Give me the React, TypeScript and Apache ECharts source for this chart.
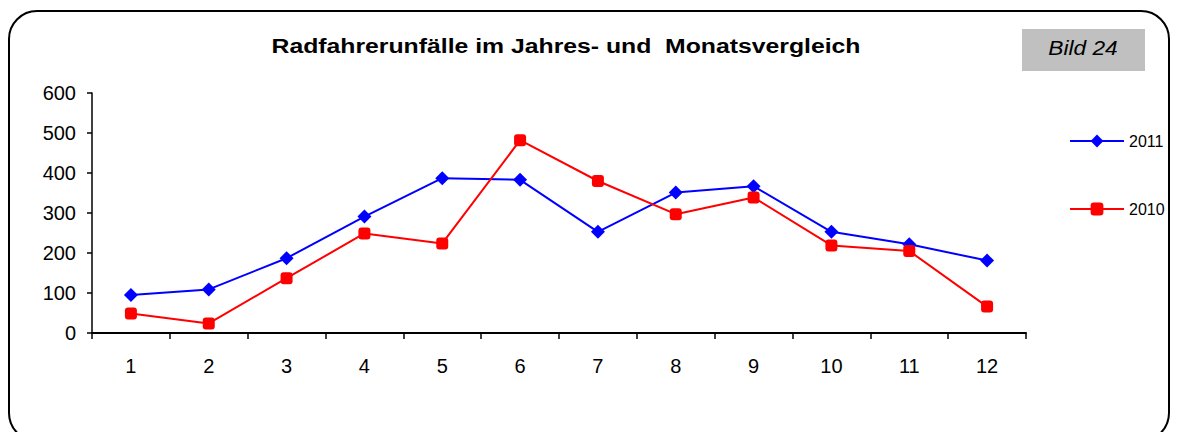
import React, { useEffect, useRef } from "react";
import * as echarts from "echarts";

const months = ["1", "2", "3", "4", "5", "6", "7", "8", "9", "10", "11", "12"];
const values2011 = [95, 109, 187, 291, 387, 383, 253, 351, 367, 253, 222, 181];
const values2010 = [49, 24, 137, 249, 224, 482, 380, 297, 339, 219, 205, 66];
const seriesNames = ["2011", "2010"];
const titleText = "Radfahrerunfälle im Jahres- und  Monatsvergleich";
const badgeText = "Bild 24";

const FONT = "'Liberation Sans', Arial, sans-serif";

export default function App() {
  const ref = useRef<HTMLDivElement>(null);
  useEffect(() => {
    if (!ref.current) return;
    const chart = echarts.init(ref.current, null, { renderer: "svg" });
    chart.setOption({
      animation: false,
      backgroundColor: "#ffffff",
      textStyle: { fontFamily: FONT },
      grid: { left: 92, right: 151, top: 93, bottom: 99, containLabel: false },
      legend: {
        orient: "vertical",
        left: 1064,
        top: 128,
        itemGap: 52,
        itemWidth: 54,
        itemHeight: 16,
        textStyle: { fontSize: 16, color: "#000", fontFamily: FONT },
        data: seriesNames,
      },
      xAxis: {
        type: "category",
        data: months,
        boundaryGap: true,
        axisLine: { lineStyle: { color: "#000", width: 2 } },
        axisTick: { show: true, length: 6, lineStyle: { color: "#000", width: 1.5 } },
        axisLabel: { color: "#000", fontSize: 20, margin: 23, fontFamily: FONT },
        splitLine: { show: false },
      },
      yAxis: {
        type: "value",
        min: 0,
        max: 600,
        interval: 100,
        axisLine: { show: true, lineStyle: { color: "#000", width: 1.5 } },
        axisTick: { show: true, length: 5, lineStyle: { color: "#000", width: 1.5 } },
        axisLabel: { color: "#000", fontSize: 20, margin: 16, fontFamily: FONT },
        splitLine: { show: false },
      },
      series: [
        {
          name: seriesNames[0],
          type: "line",
          data: values2011,
          symbol: "diamond",
          symbolSize: 14,
          lineStyle: { color: "#0000ff", width: 2 },
          itemStyle: { color: "#0000ff" },
        },
        {
          name: seriesNames[1],
          type: "line",
          data: values2010,
          symbol: "roundRect",
          symbolSize: 12,
          lineStyle: { color: "#ff0000", width: 2 },
          itemStyle: { color: "#ff0000" },
        },
      ],
      graphic: [
        {
          type: "rect",
          shape: { x: 9, y: 11, width: 1160, height: 430, r: 28 },
          style: { fill: "none", stroke: "#000", lineWidth: 2 },
          silent: true,
        },
        {
          type: "text",
          x: 566,
          y: 46,
          scaleX: 1.18,
          style: {
            text: titleText,
            fontSize: 21,
            fontWeight: "bold",
            fontFamily: FONT,
            fill: "#000",
            textAlign: "center",
            textVerticalAlign: "middle",
          },
        },
        {
          type: "rect",
          shape: { x: 1022, y: 29, width: 123, height: 42 },
          style: { fill: "#c0c0c0" },
        },
        {
          type: "text",
          x: 1083,
          y: 48,
          scaleX: 1.08,
          style: {
            text: badgeText,
            fontSize: 21,
            fontStyle: "italic",
            fontFamily: FONT,
            fill: "#000",
            textAlign: "center",
            textVerticalAlign: "middle",
          },
        },
      ],
    });
    return () => chart.dispose();
  }, []);
  return (
    <div
      ref={ref}
      style={{ position: "absolute", left: 0, top: 0, width: 1177, height: 432 }}
    />
  );
}
